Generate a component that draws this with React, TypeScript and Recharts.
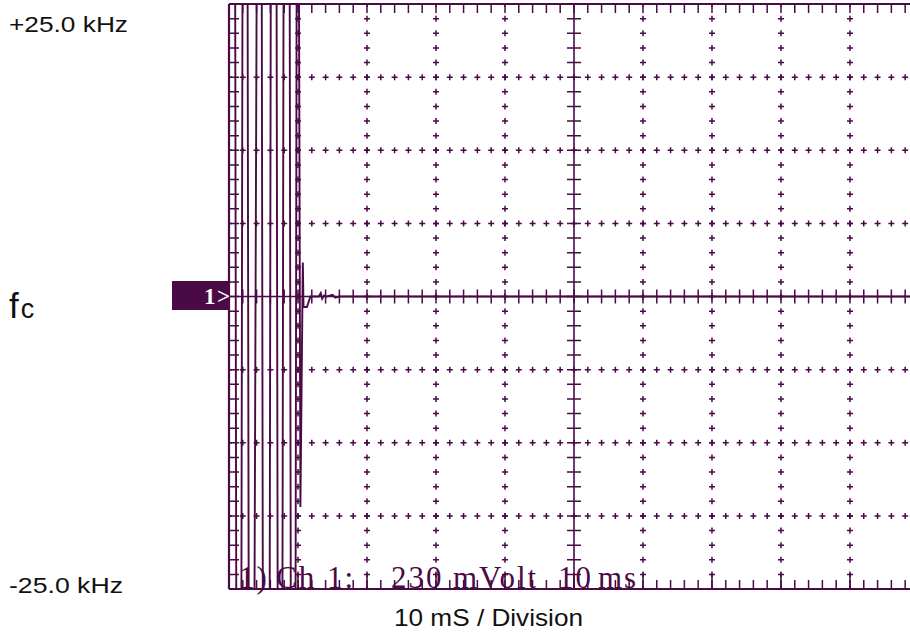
import React from 'react';
import { LineChart, Line, XAxis, YAxis, ReferenceLine } from 'recharts';

// FM deviation trace: time in ms, deviation from fc in kHz
const traceTime = [
  0.9, 1.05, 1.8, 1.95, 2.7, 2.85, 3.7, 4.0, 4.75, 4.9, 5.9, 6.05, 6.9, 7.05,
  7.75, 7.9, 8.8, 8.95, 9.65, 9.8, 10.15, 10.35, 10.7, 10.8, 11.3, 11.8,
  13.0, 13.3, 13.5, 13.8, 14.2, 15.0, 15.4, 16.0, 98.7,
];
const traceKHz = [
  25, -25, -25, 25, 25, -25, -25, 25, 25, -25, -25, 25, 25, -25,
  -25, 25, 25, -25, -25, 25, 25, -18, 2.9, -0.9, -0.9, 0,
  0, 0.3, -0.2, 0.1, 0, 0.15, -0.1, 0, 0,
];

const xDivisions = [0, 10, 20, 30, 40, 50, 60, 70, 80, 90];
const yDivisions = [-25, -18.75, -12.5, -6.25, 0, 6.25, 12.5, 18.75, 25];
const freqLabels = ['+25.0 kHz', 'fc', '-25.0 kHz'];
const axisTitle = '10 mS / Division';
const channelInfo = ['1)', 'Ch', '1:', '230', 'mVolt', '10', 'ms'];
const channelX = [239, 276, 327, 391, 453, 558, 598];

const data = traceTime.map((t, i) => ({ t, f: traceKHz[i] }));

const W = 910;
const H = 634;
const LEFT = 229;
const TOP = 4;
const BOTTOM = 589;
const PLOT_W = W - LEFT;
const PLOT_H = BOTTOM - TOP;
const X_MAX = 98.7;
const Y_MAX = 25;
const INK = '#4a0a46';

const pxMs = (p: number) => (p * X_MAX) / PLOT_W;
const pxKHz = (p: number) => (p * 2 * Y_MAX) / PLOT_H;
const MINOR_X = (2 * PLOT_W) / X_MAX; // px per 2 ms
const MINOR_Y = (1.25 * PLOT_H) / (2 * Y_MAX); // px per 1.25 kHz
const MAJOR_X = MINOR_X * 5;

// dash of length d centred on every s px, starting at the line origin
const dash = (d: number, s: number) => `${d / 2} ${s - d} ${d / 2} 0`;

function hLine(y: number, key: string, width: number, dashArray?: string) {
  return (
    <ReferenceLine
      key={key}
      segment={[{ x: 0, y }, { x: X_MAX, y }]}
      stroke={INK}
      strokeWidth={width}
      strokeDasharray={dashArray}
      ifOverflow="visible"
    />
  );
}

function vLine(x: number, key: string, width: number, dashArray?: string) {
  return (
    <ReferenceLine
      key={key}
      segment={[{ x, y: -Y_MAX }, { x, y: Y_MAX }]}
      stroke={INK}
      strokeWidth={width}
      strokeDasharray={dashArray}
      ifOverflow="visible"
    />
  );
}

export default function App() {
  const grid: React.ReactNode[] = [];

  xDivisions.forEach((x) => {
    if (x === 0 || x === 50) return;
    grid.push(vLine(x, `vc${x}`, 1.5, dash(6, MINOR_Y)));
    grid.push(vLine(x, `vb${x}`, 6, dash(1.5, MINOR_Y)));
  });
  yDivisions.forEach((y) => {
    if (Math.abs(y) === Y_MAX || y === 0) return;
    grid.push(hLine(y, `hc${y}`, 1.5, dash(6, MINOR_X)));
    grid.push(hLine(y, `hb${y}`, 6, dash(1.5, MINOR_X)));
  });

  // centre axes with ticks
  grid.push(hLine(0, 'h0', 1.6));
  grid.push(hLine(0, 'h0t', 14, dash(1.5, MINOR_X)));
  grid.push(vLine(50, 'v50', 1.6));
  grid.push(vLine(50, 'v50t', 14, dash(1.5, MINOR_Y)));

  // frame with inward ticks
  grid.push(hLine(Y_MAX, 'top', 2.2));
  grid.push(hLine(Y_MAX - pxKHz(4.5), 'topt', 9, dash(1.5, MINOR_X)));
  grid.push(hLine(-Y_MAX, 'bot', 2.2));
  grid.push(hLine(-Y_MAX + pxKHz(4.5), 'bott', 9, dash(1.5, MINOR_X)));
  grid.push(hLine(-Y_MAX + pxKHz(8), 'botm', 16, dash(1.5, MAJOR_X)));
  grid.push(vLine(0, 'left', 2.2));
  grid.push(vLine(pxMs(5), 'leftt', 10, dash(1.5, MINOR_Y)));

  return (
    <div style={{ position: 'absolute', left: 0, top: 0, width: W, height: H, background: '#fff' }}>
      <LineChart
        width={W}
        height={H}
        data={data}
        margin={{ top: TOP, right: 0, bottom: H - BOTTOM, left: LEFT }}
      >
        <XAxis dataKey="t" type="number" domain={[0, X_MAX]} hide />
        <YAxis type="number" domain={[-Y_MAX, Y_MAX]} hide />
        {grid}
        <Line
          dataKey="f"
          type="linear"
          stroke={INK}
          strokeWidth={1.9}
          dot={false}
          isAnimationActive={false}
        />
      </LineChart>
      <svg
        width={W}
        height={H}
        style={{ position: 'absolute', left: 0, top: 0, pointerEvents: 'none' }}
      >
        <g fontFamily="'Liberation Sans', Arial, sans-serif" fill="#111">
          <text x={9} y={32} fontSize={22} textLength={119} lengthAdjust="spacingAndGlyphs">
            {freqLabels[0]}
          </text>
          <text x={9} y={318} fontSize={35}>
            {freqLabels[1][0]}
            <tspan dx={2} fontSize={27}>
              {freqLabels[1][1]}
            </tspan>
          </text>
          <text x={9} y={593} fontSize={22} textLength={114} lengthAdjust="spacingAndGlyphs">
            {freqLabels[2]}
          </text>
          <text x={394} y={626} fontSize={24} textLength={189} lengthAdjust="spacingAndGlyphs">
            {axisTitle}
          </text>
        </g>
        <rect x={172} y={281} width={57} height={29} fill={INK} />
        <g fontFamily="'Liberation Serif', 'Times New Roman', serif" fill="#fff" fontSize={23} fontWeight="bold">
          <text x={204} y={304}>1</text>
          <text x={217} y={304}>&gt;</text>
        </g>
        <g fontFamily="'Liberation Serif', 'Times New Roman', serif" fill={INK} fontSize={31} letterSpacing={2}>
          {channelInfo.map((s, i) => (
            <text key={s + i} x={channelX[i]} y={588}>
              {s}
            </text>
          ))}
        </g>
      </svg>
    </div>
  );
}
